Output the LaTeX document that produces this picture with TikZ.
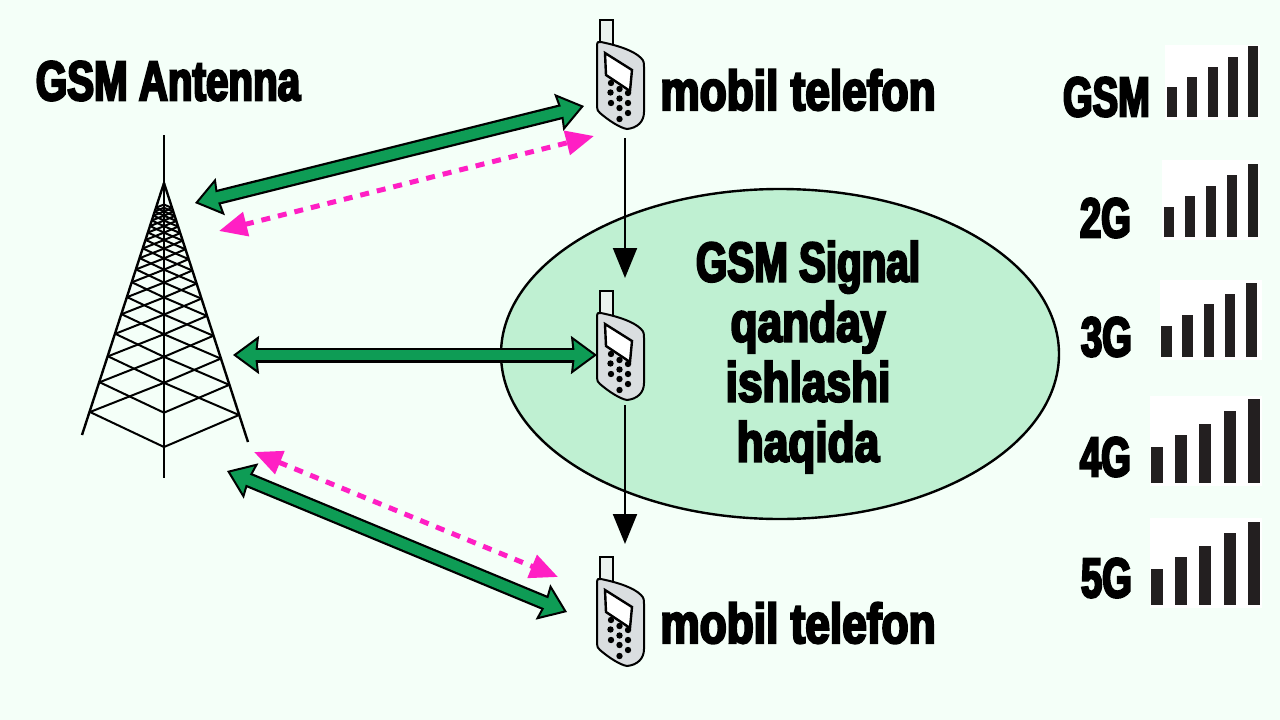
\documentclass[tikz,border=0pt]{standalone}
\usepackage{fontspec}
\newfontfamily\mainfont{Liberation Sans}[FakeStretch=0.79,FakeBold=4]
\newfontfamily\namefont{Liberation Sans}[FakeStretch=0.72,FakeBold=4]
\newfontfamily\capsfont{Liberation Sans}[FakeStretch=0.68,FakeBold=4]
\usetikzlibrary{arrows.meta,calc,shapes.geometric}
\definecolor{pagebg}{HTML}{F4FFF8}
\definecolor{cellfill}{HTML}{BFF0D2}
\definecolor{linkgreen}{HTML}{0E9C55}
\definecolor{linkpink}{HTML}{FF1FC4}
\definecolor{phonegrey}{HTML}{DADEE0}
\definecolor{bargrey}{HTML}{231F20}
\tikzstyle{title} = [font=\mainfont\bfseries\fontsize{56}{60}\selectfont, align=center, inner sep=0pt]
\tikzstyle{nametitle} = [font=\namefont\bfseries\fontsize{56}{60}\selectfont, align=center, inner sep=0pt]
\tikzstyle{capstitle} = [font=\capsfont\bfseries\fontsize{56}{60}\selectfont, anchor=east, inner sep=0pt]
\tikzstyle{greenlink} = [draw=black, line width=15pt,
    {Stealth[length=26pt,width=38pt,inset=2pt,fill=linkgreen,color=black,line width=2pt]}-{Stealth[length=26pt,width=38pt,inset=2pt,fill=linkgreen,color=black,line width=2pt]},
    postaction={draw=linkgreen, line width=10.5pt, -, shorten >=14pt, shorten <=14pt}]
\tikzstyle{pinklink} = [draw=linkpink, line width=5pt, dash pattern=on 9pt off 8pt,
    {Triangle[length=28pt,width=24pt,color=linkpink]}-{Triangle[length=28pt,width=24pt,color=linkpink]}]
\tikzstyle{handover} = [draw=black, line width=2pt, -{Triangle[length=30pt,width=24pt]}]
\tikzstyle{lattice} = [draw=black, line width=2pt]
\tikzset{
  pics/phone/.style={code={
    \draw[line width=2pt, fill=pagebg!60!phonegrey] (0,0) rectangle (13,25);
    \draw[line width=2pt, fill=phonegrey] (-3,25) .. controls (-3,22) and (-1,21) .. (1,22)
      .. controls (20,26) and (34,31) .. (41,38) .. controls (44,41) and (44,43) .. (44,47)
      -- (44,92) .. controls (44,102) and (37,108) .. (27,109)
      .. controls (20,108) and (8,100) .. (0,93) .. controls (-2,91) and (-3,90) .. (-3,87) -- cycle;
    \draw[line width=2.4pt, fill=white] (5,33) -- (32,50) -- (30,71) -- (6,55) -- cycle;
    \foreach \dotp in {(11,63),(19.5,69),(28,73),(10.5,72.5),(19.5,78.5),(28,83),(11,83),(19.5,88),(28,93),(19.5,99)}
      \fill[black] \dotp circle (3.2pt);
  }},
  pics/signalbars/.style args={#1/#2/#3/#4/#5/#6/#7}{code={
    \foreach \barh [count=\bari from 0] in {#3,#4,#5,#6,#7}
      \fill[bargrey] ({\bari*#1},0) rectangle ++(#2,-\barh);
  }}
}
\begin{document}
\begin{tikzpicture}[x=1pt,y=-1pt]
    \useasboundingbox (0,0) rectangle (1280,720);
    \fill[pagebg] (0,0) rectangle (1280,720);

    % Place nodes
    \node[draw=black, line width=2.4pt, fill=cellfill, ellipse, minimum width=558pt, minimum height=330pt, inner sep=0pt] (cell) at (780,354) {};
    \node[nametitle] (antennalabel) at (168,81) {GSM Antenna};
    \node[title] (phonelabeltop) at (798,90) {mobil telefon};
    \node[title] (phonelabelbottom) at (798,623) {mobil telefon};
    \node[title] (celllabel) at (808,357) {{\namefont GSM Signal}\\qanday\\ishlashi\\haqida};
    \node[capstitle] (gsmlabel) at (1150,97) {GSM};
    \node[capstitle] (twoglabel) at (1131,218) {2G};
    \node[capstitle] (threeglabel) at (1132,337) {3G};
    \node[capstitle] (fourglabel) at (1131,457) {4G};
    \node[capstitle] (fiveglabel) at (1132,578) {5G};

    % Tower
    \coordinate (apex) at (164,183);
    \coordinate (footl) at (90,412);
    \coordinate (footr) at (239,415);
    \coordinate (footc) at (164,447);
    \draw[line width=2.4pt] (164,135) -- (164,478);
    \draw[line width=2.4pt] (apex) -- (82,435);
    \draw[line width=2.4pt] (apex) -- (248,442);
    \foreach \lvl in {0,...,16} {
      \pgfmathsetmacro{\near}{0.87^\lvl}
      \pgfmathsetmacro{\far}{0.87^(\lvl+2)}
      \draw[lattice] ($(apex)!\near!(footl)$) -- ($(apex)!\near!(footc)$) -- ($(apex)!\near!(footr)$);
      \draw[lattice] ($(apex)!\near!(footl)$) -- ($(apex)!\far!(footc)$) -- ($(apex)!\near!(footr)$);
    }

    % Phones
    \pic at (600,20) {phone};
    \pic at (600,291) {phone};
    \pic at (600,557) {phone};

    % Signal bars
    \fill[white] (1165,45) rectangle (1260,120);
    \fill[white] (1162,160) rectangle (1260,240);
    \fill[white] (1160,280) rectangle (1262,360);
    \fill[white] (1150,396) rectangle (1262,486);
    \fill[white] (1150,518) rectangle (1262,608);
    \pic at (1167,117) {signalbars={20.3/10/30/40/50/60/71}};
    \pic at (1164,237) {signalbars={21/10/30/41/51/62/73}};
    \pic at (1161,357) {signalbars={21.3/10.5/31/42/53/63/74}};
    \pic at (1151,483) {signalbars={24.2/12/36/48/59/72/84}};
    \pic at (1151,605) {signalbars={24.2/12/36/48/59/72/83}};

    % Link ends
    \coordinate (towertop) at (195,203);
    \coordinate (phonetop) at (584,106);
    \coordinate (towermid) at (233,355);
    \coordinate (phonemid) at (597,355);
    \coordinate (towerlow) at (227,471);
    \coordinate (phonelow) at (567,612);
    \coordinate (pinktopa) at (219,231);
    \coordinate (pinktopb) at (594,136);
    \coordinate (pinklowa) at (254,452);
    \coordinate (pinklowb) at (558,577);
    \coordinate (movea) at (625,138);
    \coordinate (moveb) at (625,278);
    \coordinate (movec) at (625,405);
    \coordinate (moved) at (625,544);

    % Draw edges
    \draw[greenlink] (towertop) -- (phonetop);
    \draw[greenlink] (towermid) -- (phonemid);
    \draw[greenlink] (towerlow) -- (phonelow);
    \draw[pinklink] (pinktopa) -- (pinktopb);
    \draw[pinklink] (pinklowa) -- (pinklowb);
    \draw[handover] (movea) -- (moveb);
    \draw[handover] (movec) -- (moved);
\end{tikzpicture}
\end{document}
